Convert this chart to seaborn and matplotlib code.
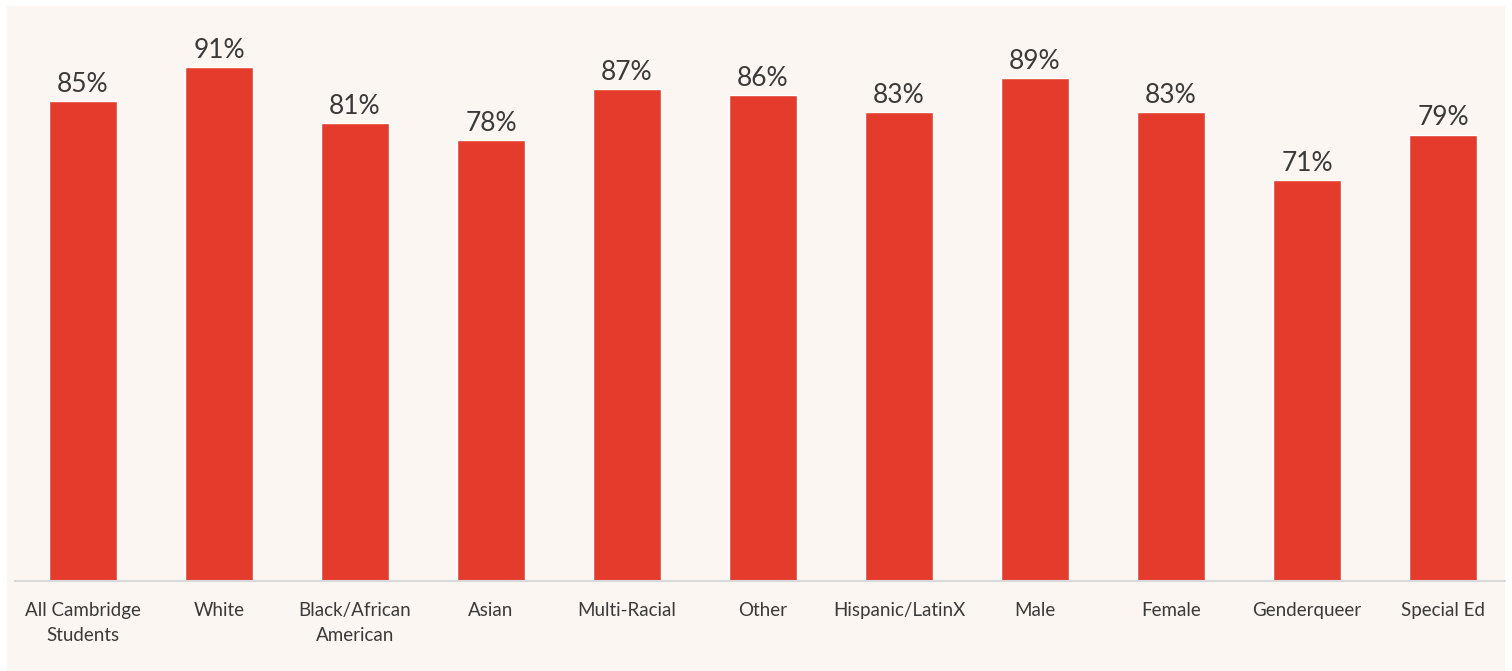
import matplotlib
matplotlib.use("Agg")
import matplotlib.pyplot as plt
from matplotlib.patches import Rectangle
import seaborn as sns

categories = ["All Cambridge\nStudents", "White", "Black/African\nAmerican", "Asian",
              "Multi-Racial", "Other", "Hispanic/LatinX", "Male", "Female",
              "Genderqueer", "Special Ed"]
values = [85, 91, 81, 78, 87, 86, 83, 89, 83, 71, 79]

BAR = "#e53b2c"
PANEL = "#fbf6f2"
TEXT = "#3a3a3a"

sns.set_style("white")
plt.rcParams["font.family"] = ["Lato", "DejaVu Sans"]

W, H = 1512, 671
fig = plt.figure(figsize=(W / 100, H / 100), dpi=100, facecolor="white")

# cream panel behind the chart
fig.patches.append(Rectangle((7 / W, 0), (1505 - 7) / W, (H - 6) / H,
                             transform=fig.transFigure, facecolor=PANEL,
                             edgecolor="none", zorder=-10))

ax = fig.add_axes([15 / W, 90 / H, (1505 - 15) / W, 565 / H])
ax.patch.set_alpha(0)

sns.barplot(x=categories, y=values, color=BAR, saturation=1, width=0.5, ax=ax)

ax.set_xlim(-0.5, 10.456)
ax.set_ylim(0, 100)
ax.set_xlabel("")
ax.set_ylabel("")
ax.set_yticks([])

for side in ("top", "right", "left"):
    ax.spines[side].set_visible(False)
ax.spines["bottom"].set_color("#d9d9d9")
ax.spines["bottom"].set_linewidth(1.5)

ax.tick_params(axis="x", length=0, pad=15, labelsize=13.5, labelcolor=TEXT)
for lbl in ax.get_xticklabels():
    lbl.set_linespacing(1.6)

for c in ax.containers:
    ax.bar_label(c, labels=[f"{v}%" for v in values], padding=3,
                 fontsize=19, color=TEXT)

fig.savefig("out.png", dpi=100, facecolor=fig.get_facecolor())
